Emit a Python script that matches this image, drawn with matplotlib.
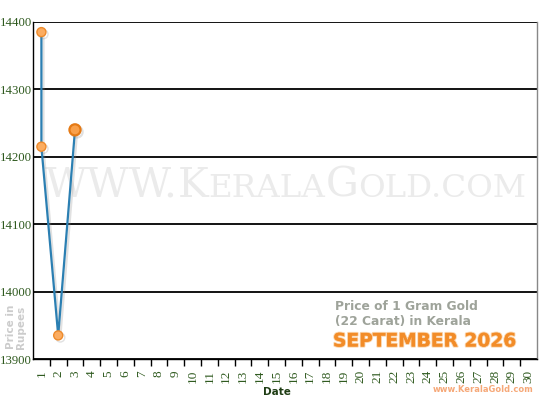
import matplotlib
matplotlib.use("Agg")
import matplotlib.pyplot as plt
import matplotlib.patheffects as pe
import numpy as np

# data
dates = [1, 1, 2, 3]
prices = [14385, 14215, 13935, 14240]
day_labels = [str(d) for d in range(1, 31)]
y_ticks = [13900, 14000, 14100, 14200, 14300, 14400]

title_lines = ["Price of 1 Gram Gold", "(22 Carat) in Kerala"]
month_title = "SEPTEMBER 2026"
site_name = "www.KeralaGold.com"
watermark = [("WWW.", True), ("K", True), ("ERALA", False), ("G", True), ("OLD.COM", False)]

tick_green = "#2f5a1f"
line_blue = "#2b7fb2"

fig = plt.figure(figsize=(5.5, 4), dpi=100)
fig.patch.set_facecolor("white")
ax = fig.add_axes([33 / 550, 41 / 400, 504 / 550, 337 / 400])
ax.set_facecolor("white")

ax.set_xlim(0.5, 30.5)
ax.set_ylim(13900, 14400)

# horizontal grid lines
for yv in y_ticks:
    ax.axhline(yv, color="black", lw=1.3, zorder=1)


def draw_watermark(big, left_px, base_px):
    """Small caps made of pieces; returns the texts and total width in px."""
    renderer = fig.canvas.get_renderer()
    x = left_px
    texts = []
    for s, is_big in watermark:
        size = big if is_big else big * 0.79
        t = ax.text(x / 550, 1 - base_px / 400, s, fontsize=size, family="DejaVu Serif",
                    color="#ebebeb", va="baseline", ha="left",
                    transform=fig.transFigure, zorder=0.5)
        x += t.get_window_extent(renderer).width
        texts.append(t)
    return texts, x - left_px


texts, width = draw_watermark(24, 45, 197)
scale = 482 / width
for t in texts:
    t.remove()
draw_watermark(24 * scale, 45, 197)

shadow = [pe.SimpleLineShadow(offset=(1.5, -1.5), shadow_color="#888888", alpha=0.25),
          pe.Normal()]

ax.plot(dates, prices, color=line_blue, lw=1.6, zorder=3, path_effects=shadow)
ax.plot(dates[:-1], prices[:-1], linestyle="none", marker="o", ms=6.5,
        mfc="#fbac60", mec="#ee8a2a", mew=1.0, zorder=4, path_effects=shadow)
ax.plot(dates[-1:], prices[-1:], linestyle="none", marker="o", ms=8,
        mfc="#f9a04a", mec="#e57a15", mew=1.6, zorder=4, path_effects=shadow)

# spines
ax.spines["top"].set_visible(False)
ax.spines["left"].set_color("black")
ax.spines["bottom"].set_color("black")
ax.spines["right"].set_color("#888888")
for s in ["left", "bottom", "right"]:
    ax.spines[s].set_linewidth(1.0)

# ticks: marks between days, labels on days
ax.set_xticks(np.arange(1.5, 30, 1.0))
ax.set_xticklabels([])
ax.set_xticks(range(1, 31), minor=True)
ax.set_xticklabels(day_labels, minor=True, rotation=90, family="Liberation Serif",
                   fontsize=9.5, color=tick_green)
ax.tick_params(axis="x", which="major", length=5, width=1, color="black", direction="out")
ax.tick_params(axis="x", which="minor", length=0, pad=8)

ax.set_yticks(y_ticks)
ax.set_yticklabels([str(v) for v in y_ticks], family="Liberation Serif",
                   fontsize=9.2, color=tick_green)
ax.tick_params(axis="y", length=0, pad=0.6)

fig.text(277 / 550, 1 - 392 / 400, "Date", fontsize=7.5, fontweight="bold",
         color="#1f3d14", ha="center", va="center")
fig.text(16 / 550, 1 - 327 / 400, "Price in\nRupees", fontsize=7.5, fontweight="bold",
         color="#cccccc", ha="center", va="center", rotation=90, linespacing=1.0)

fig.text(335 / 550, 1 - 307 / 400, title_lines[0], fontsize=8.8, fontweight="bold",
         color="#9ea39a", ha="left", va="center")
fig.text(335 / 550, 1 - 322 / 400, title_lines[1], fontsize=8.8, fontweight="bold",
         color="#9ea39a", ha="left", va="center")
fig.text(333 / 550, 1 - 341 / 400, month_title, fontsize=13.4, fontweight="bold",
         color="#f28c28", ha="left", va="center",
         path_effects=[pe.withStroke(linewidth=1.5, foreground="#fbd3a8"), pe.Normal()])
fig.text(533 / 550, 1 - 390 / 400, site_name, fontsize=6.0, fontweight="bold",
         color="#f6a878", ha="right", va="center")

fig.savefig("out.png", dpi=100)
